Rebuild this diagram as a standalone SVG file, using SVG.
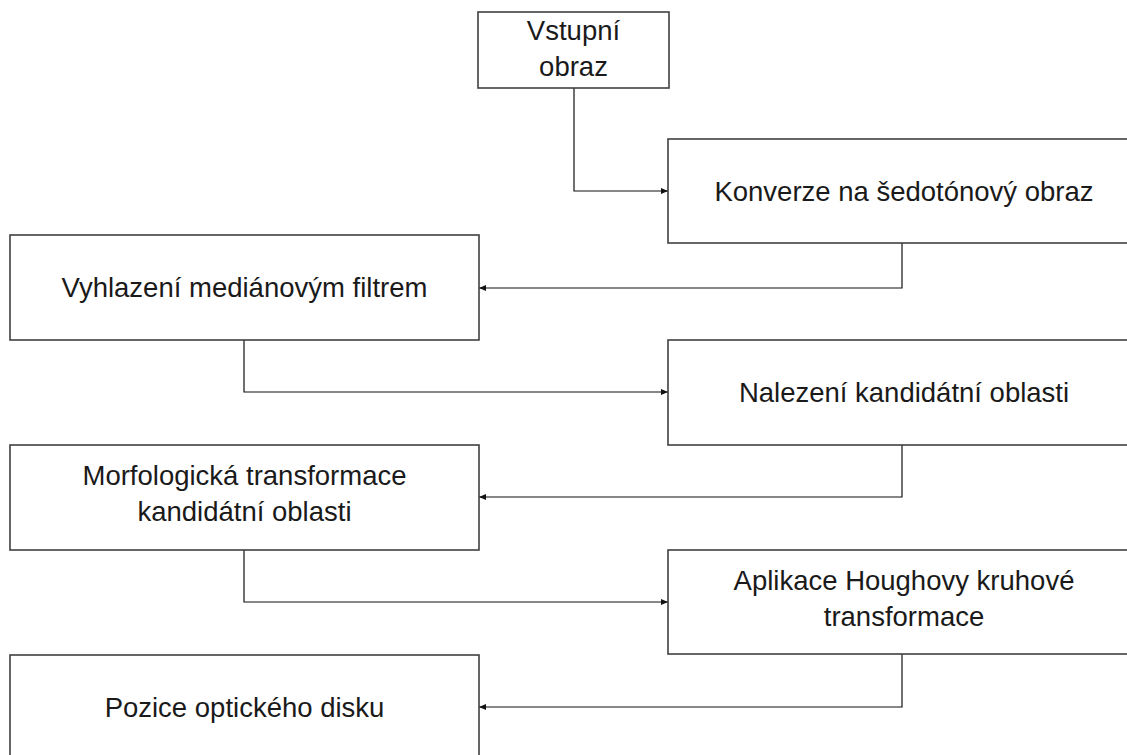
<svg xmlns="http://www.w3.org/2000/svg" width="1127" height="755" viewBox="0 0 1127 755">
<defs>
<style>
.box{fill:#fff;stroke:#404040;stroke-width:1.6}
.lbl{font-family:"Liberation Sans",Arial,sans-serif;font-size:27.5px;fill:#1a1a1a;text-anchor:middle}
.con{fill:none;stroke:#111;stroke-width:1.2}
</style>
<marker id="ah" markerWidth="8" markerHeight="8" refX="7" refY="4" orient="auto" markerUnits="userSpaceOnUse">
<path d="M0,1 L7,4 L0,7 Z" fill="#111"/>
</marker>
</defs>
<rect width="1127" height="755" fill="#fff"/>
<g id="connectors">
<path class="con" d="M574,88 V191 H668" marker-end="url(#ah)"/>
<path class="con" d="M902,243 V288 H479" marker-end="url(#ah)"/>
<path class="con" d="M244,340 V392 H668" marker-end="url(#ah)"/>
<path class="con" d="M902,445 V497 H479" marker-end="url(#ah)"/>
<path class="con" d="M244,550 V602 H668" marker-end="url(#ah)"/>
<path class="con" d="M902,654 V707 H479" marker-end="url(#ah)"/>
</g>
<g id="n1">
<rect class="box" x="478" y="12" width="191" height="76"/>
<text class="lbl" x="573.5" y="40">Vstupní</text>
<text class="lbl" x="573.5" y="76">obraz</text>
</g>
<g id="n2">
<rect class="box" x="668" y="139" width="480" height="104"/>
<text class="lbl" x="904" y="201">Konverze na šedotónový obraz</text>
</g>
<g id="n3">
<rect class="box" x="10" y="235" width="469" height="105"/>
<text class="lbl" x="244.5" y="297">Vyhlazení mediánovým filtrem</text>
</g>
<g id="n4">
<rect class="box" x="668" y="340" width="480" height="105"/>
<text class="lbl" x="904" y="402">Nalezení kandidátní oblasti</text>
</g>
<g id="n5">
<rect class="box" x="10" y="445" width="469" height="105"/>
<text class="lbl" x="244.5" y="485">Morfologická transformace</text>
<text class="lbl" x="244.5" y="521">kandidátní oblasti</text>
</g>
<g id="n6">
<rect class="box" x="668" y="550" width="480" height="104"/>
<text class="lbl" x="904" y="590">Aplikace Houghovy kruhové</text>
<text class="lbl" x="904" y="626">transformace</text>
</g>
<g id="n7">
<rect class="box" x="10" y="655" width="469" height="110"/>
<text class="lbl" x="244.5" y="717">Pozice optického disku</text>
</g>
</svg>
